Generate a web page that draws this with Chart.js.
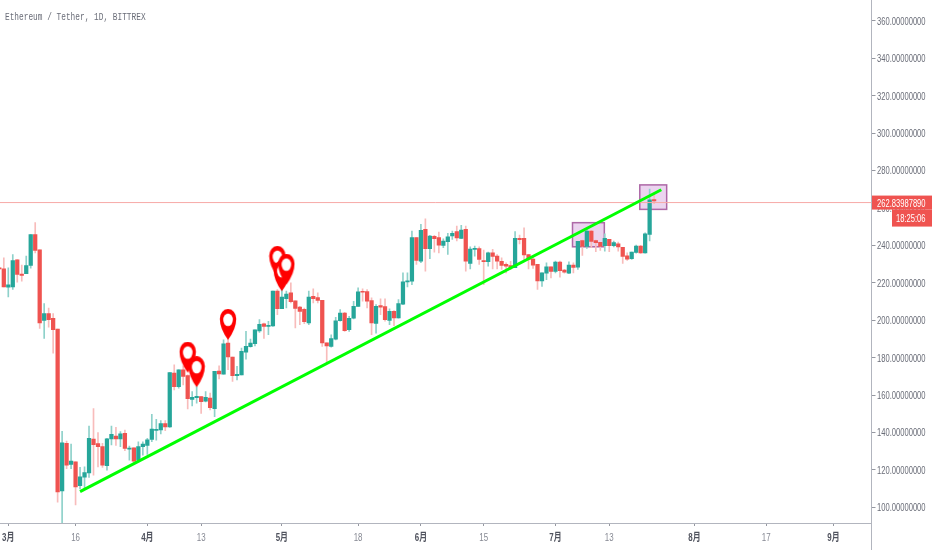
<!DOCTYPE html>
<html>
<head>
<meta charset="utf-8">
<title>Ethereum / Tether, 1D, BITTREX</title>
<script src="https://cdn.jsdelivr.net/npm/chart.js@4"></script>
<style>
    html, body { margin: 0; padding: 0; background: #fff; }
    #wrap { position: relative; width: 932px; height: 550px; overflow: hidden; }
    #chart { display: block; }
    #title { position: absolute; left: 5px; top: 11px; font: 11px 'Liberation Mono', monospace; color: #6a6d78; white-space: nowrap; transform: scaleX(0.71); transform-origin: left center; }
</style>
</head>
<body>
<div id="wrap">
    <canvas id="chart" width="932" height="550"></canvas>
    <div id="title">Ethereum / Tether, 1D, BITTREX</div>
</div>
<script>
// Candle values, one entry per day. Day 0 is 1 March
const firstDay = -2;
const opens = [228.0,227.4,217.6,217.8,232.3,224.6,224.9,229.2,245.7,237.6,199.9,203.5,201.0,195.3,108.8,134.2,122.9,124.3,111.6,116.1,
    118.4,136.5,134.0,132.5,122.2,136.5,138.1,136.5,139.5,131.1,131.8,125.2,132.4,133.1,136.3,141.1,141.3,144.7,142.9,171.7,
    164.5,173.5,170.4,157.7,158.6,159.2,156.7,158.3,152.7,172.8,171.1,187.8,180.3,170.4,170.8,182.9,185.8,187.4,194.2,198.1,
    196.7,196.9,215.6,206.2,211.5,214.6,210.3,207.0,205.8,198.5,212.8,212.1,210.6,187.9,186.0,189.9,199.7,203.8,194.9,201.0,
    207.4,215.3,215.3,210.5,198.3,207.8,207.3,199.9,204.7,201.2,208.5,220.5,220.8,244.1,231.5,248.5,238.2,244.8,244.1,239.9,
    241.9,245.0,247.3,243.7,248.5,230.3,237.8,238.3,231.9,231.2,236.0,234.2,231.5,229.8,229.2,228.0,243.7,243.7,235.1,232.6,
    229.9,221.0,225.1,228.5,226.0,231.0,226.7,225.1,229.4,228.3,242.5,239.4,247.6,242.5,241.6,239.8,243.2,239.8,240.8,238.9,
    234.4,232.8,236.2,239.6,236.0,245.8,264.4];
const closes = [227.4,217.8,218.9,231.9,224.4,223.9,229.2,245.7,237.3,198.5,203.5,200.3,194.9,108.2,134.5,122.5,124.7,110.9,116.3,118.6,
    136.8,133.4,132.4,122.5,136.6,139.0,136.5,139.2,131.5,131.6,124.7,132.4,133.8,136.1,141.8,141.7,144.7,142.9,172.0,164.5,
    173.5,169.9,158.1,158.8,159.3,156.5,158.8,153.3,172.6,171.3,187.4,180.3,170.4,171.0,183.3,186.0,187.8,194.9,197.8,196.7,
    197.1,215.6,206.2,212.4,214.0,209.9,206.3,204.7,199.2,212.4,211.5,210.6,187.9,186.3,190.1,199.7,203.8,194.4,201.0,207.4,
    215.1,214.9,210.1,198.5,207.4,206.9,200.3,204.7,201.2,208.9,220.5,221.0,244.1,231.9,248.0,238.2,245.0,243.5,240.1,242.3,
    244.6,246.4,243.9,248.2,231.5,238.0,238.3,232.4,231.2,236.0,234.0,231.5,229.2,228.9,228.0,243.7,243.0,234.8,232.4,229.4,
    221.0,225.3,228.5,226.0,231.0,226.5,225.6,229.4,228.2,242.1,239.4,247.6,242.1,241.4,239.4,243.7,239.8,241.4,239.1,234.1,
    232.6,236.4,239.6,236.0,246.2,264.3,263.7];
const highs = [228.2,233.3,228.0,235.1,232.4,229.4,234.2,245.7,252.1,237.6,208.9,206.5,203.5,195.3,140.6,135.4,133.8,124.3,121.3,121.6,
    143.4,152.7,139.9,134.2,136.8,143.4,142.7,140.4,141.3,132.7,131.8,135.0,135.0,136.8,149.7,147.0,146.3,146.3,172.0,176.1,
    173.5,175.6,170.8,161.8,164.5,159.2,161.8,161.0,172.6,175.6,189.5,190.4,180.3,175.3,185.1,194.0,189.9,194.9,200.3,198.5,
    199.4,215.6,216.4,216.4,215.5,219.9,210.3,207.4,206.5,215.5,216.7,214.6,210.6,187.9,192.2,201.5,205.6,204.2,202.1,210.1,
    217.3,216.7,216.4,211.9,208.3,211.4,211.4,206.0,205.1,211.0,225.3,225.3,247.6,244.1,251.2,254.2,245.3,245.3,247.1,243.5,
    246.4,247.6,250.3,250.7,250.3,239.2,239.6,239.2,237.5,236.4,237.8,235.1,233.3,230.7,231.5,247.3,245.5,249.4,235.1,233.3,
    229.9,225.3,230.7,228.5,231.6,231.6,227.1,231.2,230.7,242.1,242.8,248.9,248.0,242.8,241.6,246.2,243.2,242.3,241.7,238.9,
    236.0,236.4,240.1,240.0,246.7,270.0,267.3];
const lows = [227.2,217.8,212.4,216.4,220.3,220.8,224.9,227.8,236.0,195.6,190.3,196.3,182.4,102.7,91.0,120.7,120.7,101.3,109.8,109.8,
    115.9,117.2,121.6,121.3,119.9,133.3,133.1,132.4,130.2,125.2,124.3,124.9,127.9,128.2,135.0,135.9,139.2,141.0,142.7,162.7,
    163.6,165.4,152.6,154.2,155.6,150.2,156.3,152.0,148.4,168.6,171.1,173.5,167.2,168.1,170.8,179.2,185.6,186.3,193.5,190.3,
    192.2,196.7,203.0,206.2,206.5,209.2,195.8,197.6,198.1,197.6,209.2,209.2,186.0,177.0,185.6,189.5,199.4,194.0,194.0,200.6,
    207.3,210.1,206.5,192.2,193.1,202.9,199.4,197.6,197.1,201.0,208.3,217.8,219.0,229.8,230.7,226.2,232.8,236.4,236.0,238.7,
    235.1,243.2,242.3,243.5,226.2,227.4,234.2,229.8,219.0,228.9,227.4,227.4,227.1,225.3,227.1,228.0,240.8,231.6,227.4,227.6,
    216.4,218.0,221.7,222.6,225.3,223.0,225.1,224.9,225.3,227.1,234.6,238.3,238.7,236.6,237.3,236.9,236.6,239.1,236.9,230.3,
    231.9,232.4,235.8,235.7,235.8,242.3,262.3];

// Drawings on top of the candles
const trendDays = [16, 145.6];
const trendPrices = [108.4, 269.7];
const pinDays = [40, 42, 49, 60, 61, 62];
const pinPrices = [172.0, 164.2, 189.5, 223.2, 215.5, 219.0];
const boxDays = [[125.8, 132.9], [140.8, 146.8]];
const boxPrices = [[239.2, 252.1], [259.2, 272.3]];

// Axes
const tickDays = [0, 15, 31, 43, 61, 78, 92, 106, 122, 134, 153, 169, 184];
const tickLabels = ['3月', '16', '4月', '13', '5月', '18', '6月', '15', '7月', '13', '8月', '17', '9月'];
const priceTicks = [360, 340, 320, 300, 280, 260, 240, 220, 200, 180, 160, 140, 120, 100];
const lastPrice = 262.83987890;
const countdown = '18:25:06';

const upColor = '#26a69a';
const downColor = '#ef5350';
const upWick = '#8ed1ca';
const downWick = '#f8bcbb';
const axisFont = "'Liberation Sans', 'Noto Sans CJK SC', sans-serif";

const dayOf = i => i + firstDay;

// The source uses a condensed face that is not installed, so squeeze the text sideways
function narrowText(ctx, text, x, y, align, color, font) {
    ctx.save();
    ctx.translate(x, y);
    ctx.scale(0.69, 1);
    ctx.font = font;
    ctx.fillStyle = color;
    ctx.textAlign = align;
    ctx.textBaseline = 'middle';
    ctx.fillText(text, 0, 0);
    ctx.restore();
}

// Map pin, tip sits at the canvas centre because the point image gets centred on the value
function makePin() {
    const c = document.createElement('canvas');
    c.width = 18;
    c.height = 62;
    const g = c.getContext('2d');
    g.fillStyle = '#ff0000';
    g.beginPath();
    g.ellipse(9, 10, 8.2, 10, 0, Math.PI, 0);
    g.quadraticCurveTo(17.2, 20, 9, 31);
    g.quadraticCurveTo(0.8, 20, 0.8, 10);
    g.closePath();
    g.fill();
    g.fillStyle = '#ffffff';
    g.beginPath();
    g.ellipse(9, 11, 4.8, 6.3, 0, 0, Math.PI * 2);
    g.fill();
    return c;
}

// Boxes under the candles, axis labels and last price tags above everything
const drawingsPlugin = {
    id: 'drawings',
    beforeDatasetsDraw(chart) {
        const { ctx, scales: { x, y } } = chart;
        ctx.save();
        boxDays.forEach((days, i) => {
            const left = x.getPixelForValue(days[0]);
            const right = x.getPixelForValue(days[1]);
            const bottom = y.getPixelForValue(boxPrices[i][0]);
            const top = y.getPixelForValue(boxPrices[i][1]);
            ctx.fillStyle = 'rgba(156, 39, 176, 0.2)';
            ctx.strokeStyle = 'rgba(150, 60, 140, 0.75)';
            ctx.lineWidth = 1.5;
            ctx.fillRect(left, top, right - left, bottom - top);
            ctx.strokeRect(left, top, right - left, bottom - top);
        });
        ctx.restore();
    },
    afterDraw(chart) {
        const { ctx, chartArea, scales: { x, y } } = chart;
        const py = y.getPixelForValue(lastPrice);
        priceTicks.forEach(v => {
            narrowText(ctx, v.toFixed(8), 877, y.getPixelForValue(v) + 1, 'left', '#6a6d78', '11px ' + axisFont);
        });
        tickDays.forEach((d, i) => {
            const isMonth = tickLabels[i].includes('月');
            narrowText(ctx, tickLabels[i], x.getPixelForValue(d), 538, 'center',
                isMonth ? '#50535e' : '#868993', (isMonth ? 'bold ' : '') + '11.5px ' + axisFont);
        });
        ctx.save();
        ctx.strokeStyle = '#b2b5be';
        ctx.beginPath();
        ctx.moveTo(chartArea.right, chartArea.bottom);
        ctx.lineTo(chartArea.right, 550);
        ctx.stroke();
        ctx.fillStyle = downColor;
        ctx.fillRect(872, py - 7, 60, 14);
        ctx.fillRect(892, py + 7, 40, 17);
        ctx.restore();
        narrowText(ctx, lastPrice.toFixed(8), 877, py + 1, 'left', '#ffffff', '11px ' + axisFont);
        narrowText(ctx, countdown, 896, py + 16, 'left', '#ffffff', '11px ' + axisFont);
    }
};

// Zero out the margins Chart.js adds for the labels, so the plot fills the canvas
function fitAxis(scale, size) {
    if (scale.isHorizontal()) {
        scale.height = size;
    } else {
        scale.width = size;
    }
    scale.paddingLeft = scale.paddingRight = scale.paddingTop = scale.paddingBottom = 0;
}

new Chart(document.getElementById('chart').getContext('2d'), {
    type: 'bar',
    data: {
        datasets: [
            {
                type: 'scatter',
                data: pinDays.map((d, i) => ({ x: d, y: pinPrices[i] })),
                pointStyle: makePin(),
                order: 0
            },
            {
                type: 'scatter',
                showLine: true,
                data: trendDays.map((d, i) => ({ x: d, y: trendPrices[i] })),
                borderColor: '#00ff00',
                borderWidth: 3,
                pointRadius: 0,
                order: 1
            },
            {
                type: 'scatter',
                showLine: true,
                data: [{ x: -1.85, y: lastPrice }, { x: 192.47, y: lastPrice }],
                borderColor: '#f7a9a7',
                borderWidth: 1,
                pointRadius: 0,
                order: 2
            },
            {
                // Candle bodies
                data: opens.map((o, i) => ({ x: dayOf(i), y: [o, closes[i]] })),
                backgroundColor: opens.map((o, i) => closes[i] >= o ? upColor : downColor),
                barThickness: 3.6,
                minBarLength: 1,
                grouped: false,
                order: 3
            },
            {
                // Candle wicks
                data: lows.map((l, i) => ({ x: dayOf(i), y: [l, highs[i]] })),
                backgroundColor: opens.map((o, i) => closes[i] >= o ? upWick : downWick),
                barThickness: 1,
                grouped: false,
                order: 4
            }
        ]
    },
    options: {
        responsive: false,
        animation: false,
        events: [],
        layout: { padding: 0, autoPadding: false },
        plugins: {
            legend: { display: false },
            tooltip: { enabled: false },
            title: { display: false }
        },
        scales: {
            x: {
                type: 'linear',
                offset: false,
                min: -1.85,
                max: 192.47,
                afterBuildTicks(scale) {
                    scale.ticks = tickDays.map(v => ({ value: v }));
                },
                afterFit(scale) {
                    fitAxis(scale, 27);
                },
                grid: { offset: false, drawOnChartArea: false, tickLength: 3, tickColor: '#9598a1' },
                border: { color: '#b2b5be', width: 1 },
                ticks: { display: false }
            },
            y: {
                position: 'right',
                min: 91.6,
                max: 371.1,
                afterBuildTicks(scale) {
                    scale.ticks = priceTicks.map(v => ({ value: v }));
                },
                afterFit(scale) {
                    fitAxis(scale, 60.5);
                },
                grid: { drawOnChartArea: false, tickLength: 4, tickColor: '#9598a1' },
                border: { color: '#b2b5be', width: 1 },
                ticks: { display: false }
            }
        }
    },
    plugins: [drawingsPlugin]
});
</script>
</body>
</html>
